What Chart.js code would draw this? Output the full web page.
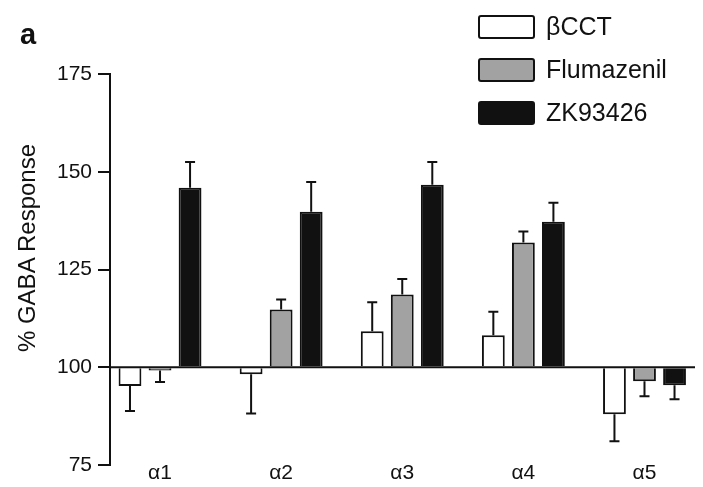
<!DOCTYPE html>
<html lang="en">
<head>
<meta charset="utf-8">
<title>% GABA Response</title>
<script src="https://cdn.jsdelivr.net/npm/chart.js@4.4.0/dist/chart.umd.min.js"></script>
<style>
  html, body { margin: 0; padding: 0; background: #fff; }
  #wrap { position: relative; width: 703px; height: 487px; font-family: "Liberation Sans", Arial, sans-serif; color: #111; }
  #chart { position: absolute; left: 0; top: 0; }
  #panel-letter { position: absolute; left: 20px; top: 20px; font-size: 29px; line-height: 29px; font-weight: bold; }
  #y-title { position: absolute; left: 27px; top: 248px; transform: translate(-50%, -50%) rotate(-90deg); font-size: 24px; white-space: nowrap; }
  #legend { position: absolute; left: 478px; top: 5px; }
  .legend-item { display: flex; align-items: center; height: 43px; font-size: 25px; }
  .legend-box { width: 53px; height: 20px; border: 2px solid #111; border-radius: 3px; margin-right: 11px; }
</style>
</head>
<body>
<div id="wrap">
  <canvas id="chart" width="703" height="487"></canvas>
  <div id="panel-letter">a</div>
  <div id="y-title">% GABA Response</div>
  <div id="legend"></div>
</div>

<script>
// --- Data ---
const categories = ['α1', 'α2', 'α3', 'α4', 'α5'];

const bcctMean = [95.2, 98.2, 109.2, 108.2, 88.0];
const bcctErr  = [6.4, 10.0, 7.4, 6.0, 6.9];

const flumMean = [99.2, 114.8, 118.6, 131.9, 96.4];
const flumErr  = [3.0, 2.5, 4.0, 2.8, 3.8];

const zkMean = [145.9, 139.8, 146.7, 137.2, 95.4];
const zkErr  = [6.6, 7.6, 5.8, 4.9, 3.6];

const yTicks = [75, 100, 125, 150, 175];
const BASELINE = 100; // bars grow up or down from 100 %

// turn a list of means into {x, y} points on the numeric category axis
const toPoints = (values) => values.map((v, i) => ({ x: i + 1, y: v }));

// --- Error bars + the 100 % line, drawn on top of the bars ---
const errorBarsPlugin = {
    id: 'errorBars',
    afterDatasetsDraw(chart) {
        const { ctx, chartArea, scales: { y } } = chart;
        ctx.save();
        ctx.strokeStyle = '#111';
        ctx.lineWidth = 2;

        chart.data.datasets.forEach((ds, di) => {
            const meta = chart.getDatasetMeta(di);
            meta.data.forEach((bar, i) => {
                const v = ds.data[i].y;
                const e = ds.errors[i];
                const tip = y.getPixelForValue(v >= BASELINE ? v + e : v - e);
                ctx.beginPath();
                ctx.moveTo(bar.x, bar.y);
                ctx.lineTo(bar.x, tip);
                ctx.moveTo(bar.x - 5, tip);
                ctx.lineTo(bar.x + 5, tip);
                ctx.stroke();
            });
        });

        const yb = y.getPixelForValue(BASELINE);
        ctx.beginPath();
        ctx.moveTo(chartArea.left, yb);
        ctx.lineTo(chartArea.right, yb);
        ctx.stroke();
        ctx.restore();
    }
};

// --- Stacked legend in HTML, top right ---
const htmlLegendPlugin = {
    id: 'htmlLegend',
    afterUpdate(chart) {
        const holder = document.getElementById('legend');
        holder.innerHTML = '';
        chart.data.datasets.forEach(ds => {
            const item = document.createElement('div');
            item.className = 'legend-item';
            const swatch = document.createElement('span');
            swatch.className = 'legend-box';
            swatch.style.background = ds.backgroundColor;
            const label = document.createElement('span');
            label.textContent = ds.label;
            item.appendChild(swatch);
            item.appendChild(label);
            holder.appendChild(item);
        });
    }
};

Chart.defaults.font.family = '"Liberation Sans", Arial, sans-serif';
Chart.defaults.color = '#111';

new Chart(document.getElementById('chart'), {
    type: 'bar',
    data: {
        datasets: [
            { label: 'βCCT', data: toPoints(bcctMean), errors: bcctErr, backgroundColor: '#ffffff' },
            { label: 'Flumazenil', data: toPoints(flumMean), errors: flumErr, backgroundColor: '#a2a2a2' },
            { label: 'ZK93426', data: toPoints(zkMean), errors: zkErr, backgroundColor: '#111111' }
        ]
    },
    options: {
        responsive: false,
        animation: false,
        layout: { padding: { top: 74, right: 8, left: 0, bottom: 0 } },
        datasets: {
            bar: {
                base: BASELINE,
                borderColor: '#111',
                borderWidth: 2,
                borderSkipped: 'start',
                categoryPercentage: 0.744,
                barPercentage: 0.76
            }
        },
        plugins: {
            legend: { display: false },
            tooltip: { enabled: false }
        },
        scales: {
            x: {
                type: 'linear',
                offset: false,
                min: 0.587,
                max: 5.417,
                grid: { display: false, drawTicks: false, offset: false },
                border: { display: false },
                afterBuildTicks: (scale) => {
                    scale.ticks = categories.map((c, i) => ({ value: i + 1 }));
                },
                afterFit: (scale) => { scale.height = 22; },
                ticks: {
                    autoSkip: false,
                    maxRotation: 0,
                    padding: -4,
                    font: { size: 21 },
                    callback: (value) => categories[value - 1] ?? ''
                }
            },
            y: {
                min: yTicks[0],
                max: yTicks[yTicks.length - 1],
                afterBuildTicks: (scale) => {
                    scale.ticks = yTicks.map(v => ({ value: v }));
                },
                afterFit: (scale) => { scale.width = 110; },
                grid: {
                    display: true,
                    drawOnChartArea: false,
                    drawTicks: true,
                    tickLength: 12,
                    color: '#111',
                    lineWidth: 2
                },
                border: { display: true, color: '#111', width: 2 },
                ticks: { padding: 6, font: { size: 21 } }
            }
        }
    },
    plugins: [errorBarsPlugin, htmlLegendPlugin]
});
</script>
</body>
</html>
